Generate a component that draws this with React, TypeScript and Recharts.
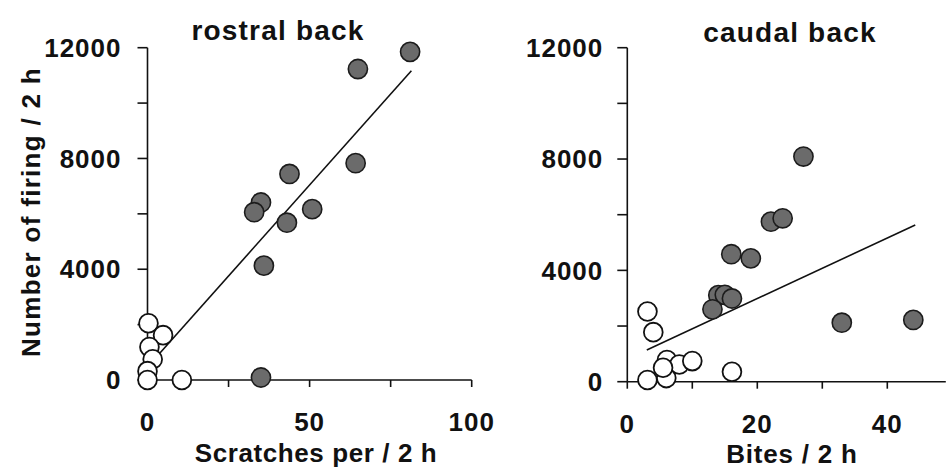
import React from 'react';
import { ScatterChart, Scatter, XAxis, YAxis } from 'recharts';

// ---- rostral back (left panel) ----
const rostralFilledX = [81.0, 64.9, 64.2, 43.8, 35.0, 32.9, 50.8, 43.0, 35.9, 35.0];
const rostralFilledY = [11850, 11230, 7830, 7440, 6410, 6060, 6170, 5680, 4130, 90];
const rostralOpenX = [0.3, 4.8, 0.6, 1.6, 0.0, 0.0, 10.6];
const rostralOpenY = [2050, 1620, 1190, 750, 320, 0, 0];
const rostralFitX = [0, 81.4];
const rostralFitY = [470, 11170];
const rostralXTicks = [0, 25, 50, 75, 100];
const rostralXLabels = [0, 50, 100];

// ---- caudal back (right panel) ----
const caudalFilledX = [27.1, 22.1, 23.9, 16.0, 19.0, 14.0, 15.0, 16.1, 13.1, 33.0, 44.0];
const caudalFilledY = [8090, 5750, 5870, 4580, 4430, 3110, 3120, 2990, 2600, 2120, 2220];
const caudalOpenX = [3.1, 4.0, 6.1, 8.0, 10.0, 16.1, 3.1, 6.0, 5.5];
const caudalOpenY = [2520, 1780, 780, 620, 740, 360, 60, 130, 500];
const caudalFitX = [3.0, 44.3];
const caudalFitY = [1140, 5630];
const caudalXTicks = [0, 10, 20, 30, 40];
const caudalXLabels = [0, 20, 40];

// ---- shared y axis ----
const yTicks = [0, 2000, 4000, 6000, 8000, 10000, 12000];
const yLabels = [0, 4000, 8000, 12000];

const zip = (xs: number[], ys: number[]) => xs.map((x, i) => ({ x, y: ys[i] }));

const FONT = '"Liberation Sans", Arial, Helvetica, sans-serif';
const INK = '#111';

const FilledDot = (p: any) => (
  <circle cx={p.cx} cy={p.cy} r={9.6} fill="#6b6b6b" stroke="#1c1c1c" strokeWidth={1.6} />
);
const OpenDot = (p: any) => (
  <circle cx={p.cx} cy={p.cy} r={9.4} fill="#fff" stroke="#111" strokeWidth={1.8} />
);
const NoDot = () => <g />;

const makeXTick = (labels: number[]) => (props: any) => {
  const { x, y, payload } = props;
  if (!labels.includes(payload.value)) return <g />;
  return (
    <text x={x} y={y} dy="0.71em" textAnchor="middle" fontFamily={FONT} fontWeight="bold"
      fontSize={26} letterSpacing={1} fill={INK}>
      {payload.value}
    </text>
  );
};

const makeYTick = (labels: number[]) => (props: any) => {
  const { x, y, payload } = props;
  if (!labels.includes(payload.value)) return <g />;
  return (
    <text x={x} y={y} dy="0.355em" textAnchor="end" fontFamily={FONT} fontWeight="bold"
      fontSize={26} letterSpacing={1} fill={INK}>
      {payload.value}
    </text>
  );
};

const axisStroke = { stroke: '#111', strokeWidth: 1.6 };

type PanelProps = {
  width: number;
  margin: { top: number; right: number; bottom: number; left: number };
  xDomain: [number, number];
  xTicks: number[];
  xLabels: number[];
  yTickMargin: number;
  filled: { x: number; y: number }[];
  open: { x: number; y: number }[];
  fit: { x: number; y: number }[];
};

const Panel = ({ width, margin, xDomain, xTicks, xLabels, yTickMargin, filled, open, fit }: PanelProps) => (
  <ScatterChart width={width} height={470} margin={margin} style={{ overflow: 'visible' }}>
    <XAxis type="number" dataKey="x" domain={xDomain} ticks={xTicks} interval={0}
      height={60} tickSize={7} tickMargin={26} axisLine={axisStroke} tickLine={axisStroke}
      tick={makeXTick(xLabels)} />
    <YAxis type="number" dataKey="y" domain={[0, 12000]} ticks={yTicks} interval={0}
      width={80} tickSize={10} tickMargin={yTickMargin} axisLine={axisStroke} tickLine={axisStroke}
      tick={makeYTick(yLabels)} />
    <Scatter data={fit} line={{ stroke: '#111', strokeWidth: 1.6 }} shape={NoDot} isAnimationActive={false} />
    <Scatter data={open} shape={OpenDot} isAnimationActive={false} />
    <Scatter data={filled} shape={FilledDot} isAnimationActive={false} />
  </ScatterChart>
);

export default function App() {
  return (
    <div style={{ position: 'absolute', left: 0, top: 0, width: 947, height: 470, background: '#fff', overflow: 'hidden' }}>
      <div style={{ position: 'absolute', left: 0, top: 0 }}>
        <Panel
          width={500}
          margin={{ top: 47.7, right: 28.3, bottom: 30, left: 67.5 }}
          xDomain={[0, 100]}
          xTicks={rostralXTicks}
          xLabels={rostralXLabels}
          yTickMargin={16}
          filled={zip(rostralFilledX, rostralFilledY)}
          open={zip(rostralOpenX, rostralOpenY)}
          fit={zip(rostralFitX, rostralFitY)}
        />
      </div>
      <div style={{ position: 'absolute', left: 480, top: 0 }}>
        <Panel
          width={467}
          margin={{ top: 47.7, right: 1.2, bottom: 28.3, left: 67.3 }}
          xDomain={[0, 49]}
          xTicks={caudalXTicks}
          xLabels={caudalXLabels}
          yTickMargin={14}
          filled={zip(caudalFilledX, caudalFilledY)}
          open={zip(caudalOpenX, caudalOpenY)}
          fit={zip(caudalFitX, caudalFitY)}
        />
      </div>
      <svg width={947} height={470} style={{ position: 'absolute', left: 0, top: 0, pointerEvents: 'none' }}>
        <g fontFamily={FONT} fontWeight="bold" fill={INK}>
          <text x={278} y={40} textAnchor="middle" fontSize={28} letterSpacing={1.2}>rostral back</text>
          <text x={790} y={41.5} textAnchor="middle" fontSize={28} letterSpacing={1.2}>caudal back</text>
          <text x={316} y={462} textAnchor="middle" fontSize={26} letterSpacing={0.6}>Scratches per / 2 h</text>
          <text x={792} y={463} textAnchor="middle" fontSize={26} letterSpacing={0.8}>Bites / 2 h</text>
          <text x={40} y={212} textAnchor="middle" fontSize={26} letterSpacing={1.3}
            transform="rotate(-90 40 212)">Number of firing / 2 h</text>
        </g>
      </svg>
    </div>
  );
}
